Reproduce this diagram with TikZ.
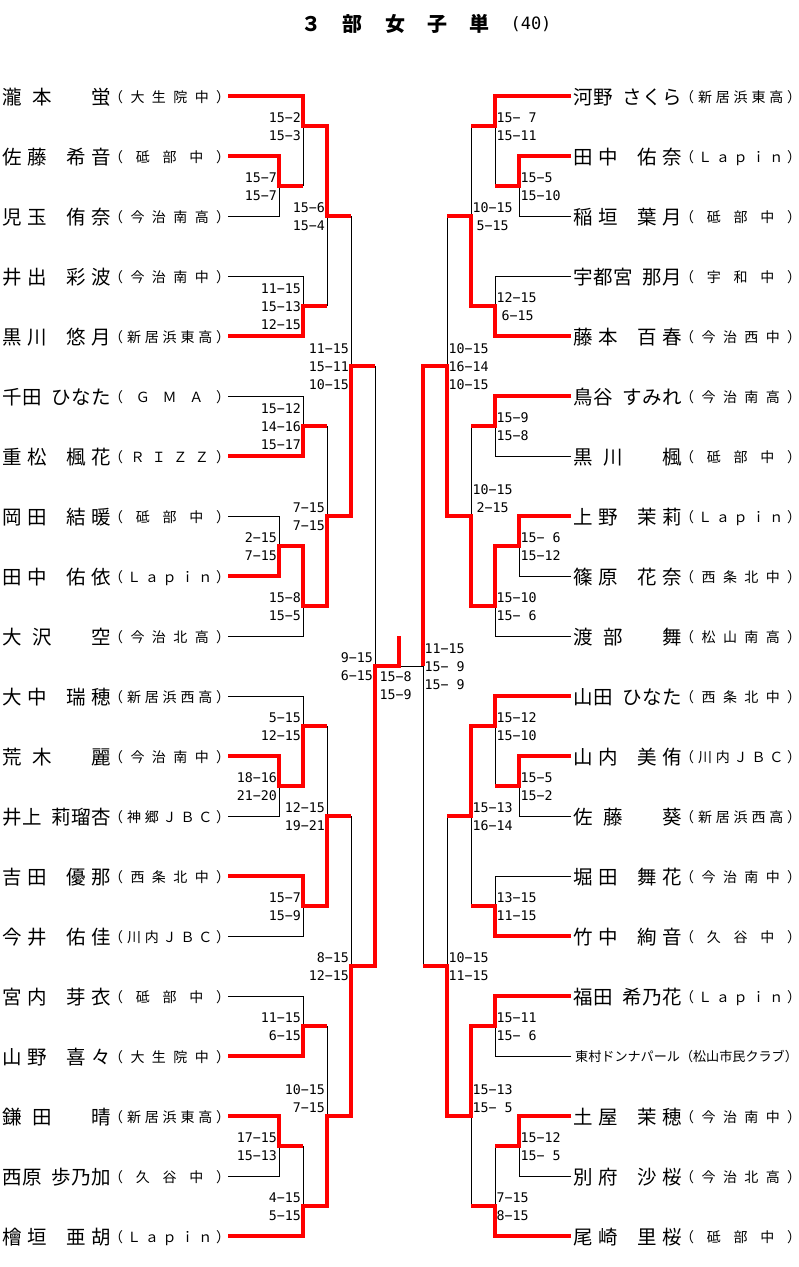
\documentclass[tikz,border=0pt]{standalone}
\usepackage{fontspec}
\newfontfamily\cjk{Noto Sans CJK JP}
\newfontfamily\mono{DejaVu Sans Mono}
\newdimen\fsw \fsw=19.5pt
\newdimen\hsw \hsw=8pt
\newcount\scn
\makeatletter
\newcommand\distbox[2]{\hbox to #1{\dist@loop#2\relax}}
\def\dist@loop#1{\ifx\relax#1\unskip\else\dist@put#1\hfil\expandafter\dist@loop\fi}
\def\dist@put#1{\ifx*#1\hbox to\fsw{}\else\ifx+#1\hbox to\hsw{}\else#1\fi\fi}
\makeatother
\tikzset{
  lose/.style={draw=black,line width=1pt},
  win/.style={draw=red,line width=3.2pt,line join=miter},
  namest/.style={inner sep=0pt,font=\cjk\fontsize{19.5}{20}\selectfont},
  schst/.style={inner sep=0pt,font=\cjk\fontsize{14}{14}\selectfont},
  smallst/.style={inner sep=0pt,font=\cjk\fontsize{13.1}{13}\selectfont},
  scst/.style={inner sep=0pt,font=\mono\fontsize{13.3}{13}\selectfont},
  titlest/.style={inner sep=0pt,font=\cjk\bfseries\fontsize{20}{20}\selectfont},
}
\newcommand\PL[4]{\node[namest,anchor=base west] (#1) at (2,#2+8) {\distbox{109pt}{#3}};
  \node[schst,anchor=base west] (#1s) at (109,#2+6.3) {\distbox{121pt}{（#4）}};}
\newcommand\PR[4]{\node[namest,anchor=base west] (#1) at (573,#2+8) {\distbox{109pt}{#3}};
  \node[schst,anchor=base west] (#1s) at (680,#2+6.3) {\distbox{121pt}{（#4）}};}
\newcommand\SL[3]{\foreach \t [count=\i from 0] in {#3}{\global\advance\scn by 1 \node[scst,anchor=base east] (sc\the\scn) at (#1-2,#2+4.8+18*\i) {\t};}}
\newcommand\SR[3]{\foreach \t [count=\i from 0] in {#3}{\global\advance\scn by 1 \node[scst,anchor=base west] (sc\the\scn) at (#1+1.5,#2+4.8+18*\i) {\t};}}
\begin{document}
\begin{tikzpicture}[x=1pt,y=-1pt]
\useasboundingbox (0,0) rectangle (799,1267);
\fill[white] (0,0) rectangle (799,1267);
% title
\foreach \c/\xx [count=\k] in {３/311,部/352.5,女/395,子/437,単/479}
  \node[titlest,anchor=base] (t\k) at (\xx,31) {\c};
\node[inner sep=0pt,font=\mono\fontsize{17}{17}\selectfont,anchor=base] (t6) at (531,29) {(40)};
% ---------- black lines ----------
\draw[lose] (228,216)--(279,216)--(279,186);
\draw[lose] (303,126)--(303,186);
\draw[lose] (228,276)--(303,276)--(303,306);
\draw[lose] (327,216)--(327,306);
\draw[lose] (351,216)--(351,366);
\draw[lose] (228,396)--(303,396)--(303,426);
\draw[lose] (327,426)--(327,516);
\draw[lose] (228,516)--(279,516)--(279,546);
\draw[lose] (303,606)--(303,636)--(228,636);
\draw[lose] (375,366)--(375,666);
\draw[lose] (228,696)--(303,696)--(303,726);
\draw[lose] (228,816)--(279,816)--(279,786);
\draw[lose] (327,726)--(327,816);
\draw[lose] (228,936)--(303,936)--(303,906);
\draw[lose] (351,816)--(351,966);
\draw[lose] (228,996)--(303,996)--(303,1026);
\draw[lose] (327,1026)--(327,1116);
\draw[lose] (228,1176)--(279,1176)--(279,1146);
\draw[lose] (303,1146)--(303,1206);
\draw[lose] (399,666)--(423,666);
\draw[lose] (571,216)--(519,216)--(519,186);
\draw[lose] (495,126)--(495,186);
\draw[lose] (471,126)--(471,216);
\draw[lose] (571,276)--(495,276)--(495,306);
\draw[lose] (447,216)--(447,366);
\draw[lose] (571,456)--(495,456)--(495,426);
\draw[lose] (471,426)--(471,516);
\draw[lose] (571,576)--(519,576)--(519,546);
\draw[lose] (495,606)--(495,636)--(571,636);
\draw[lose] (423,666)--(423,966);
\draw[lose] (571,816)--(519,816)--(519,786);
\draw[lose] (495,726)--(495,786);
\draw[lose] (471,816)--(471,906);
\draw[lose] (571,876)--(495,876)--(495,906);
\draw[lose] (447,816)--(447,966);
\draw[lose] (571,1056)--(495,1056)--(495,1026);
\draw[lose] (471,1116)--(471,1206);
\draw[lose] (571,1176)--(519,1176)--(519,1146);
\draw[lose] (495,1146)--(495,1206);
% ---------- red lines ----------
\draw[win] (228,96)--(303,96)--(303,126)--(327,126)--(327,216)--(351,216);
\draw[win] (228,156)--(279,156)--(279,186)--(303,186);
\draw[win] (228,336)--(303,336)--(303,306)--(327,306);
\draw[win] (228,456)--(303,456)--(303,426)--(327,426);
\draw[win] (228,576)--(279,576)--(279,546)--(303,546)--(303,606)--(327,606)--(327,516)--(351,516)--(351,366)--(375,366);
\draw[win] (228,756)--(279,756)--(279,786)--(303,786)--(303,726)--(327,726);
\draw[win] (228,876)--(303,876)--(303,906)--(327,906)--(327,816)--(351,816);
\draw[win] (228,1056)--(303,1056)--(303,1026)--(327,1026);
\draw[win] (228,1116)--(279,1116)--(279,1146)--(303,1146);
\draw[win] (228,1236)--(303,1236)--(303,1206)--(327,1206)--(327,1116)--(351,1116)--(351,966)--(375,966)--(375,666)--(399,666)--(399,636);
\draw[win] (571,96)--(495,96)--(495,126)--(471,126);
\draw[win] (571,156)--(519,156)--(519,186)--(495,186);
\draw[win] (571,336)--(495,336)--(495,306)--(471,306)--(471,216)--(447,216);
\draw[win] (571,396)--(495,396)--(495,426)--(471,426);
\draw[win] (571,516)--(519,516)--(519,546)--(495,546)--(495,606)--(471,606)--(471,516)--(447,516)--(447,366)--(423,366)--(423,666);
\draw[win] (571,696)--(495,696)--(495,726)--(471,726)--(471,816)--(447,816);
\draw[win] (571,756)--(519,756)--(519,786)--(495,786);
\draw[win] (571,936)--(495,936)--(495,906)--(471,906);
\draw[win] (571,996)--(495,996)--(495,1026)--(471,1026)--(471,1116)--(447,1116)--(447,966)--(423,966);
\draw[win] (571,1116)--(519,1116)--(519,1146)--(495,1146);
\draw[win] (571,1236)--(495,1236)--(495,1206)--(471,1206);
% ---------- players left ----------
\PL{L1}{96}{瀧本*蛍}{大生院中}
\PL{L2}{156}{佐藤+希音}{砥部中}
\PL{L3}{216}{児玉+侑奈}{今治南高}
\PL{L4}{276}{井出+彩波}{今治南中}
\PL{L5}{336}{黒川+悠月}{新居浜東高}
\PL{L6}{396}{千田+ひなた}{ＧＭＡ}
\PL{L7}{456}{重松+楓花}{ＲＩＺＺ}
\PL{L8}{516}{岡田+結暖}{砥部中}
\PL{L9}{576}{田中+佑依}{Ｌａｐｉｎ}
\PL{L10}{636}{大沢*空}{今治北高}
\PL{L11}{696}{大中+瑞穂}{新居浜西高}
\PL{L12}{756}{荒木*麗}{今治南中}
\PL{L13}{816}{井上+莉瑠杏}{神郷ＪＢＣ}
\PL{L14}{876}{吉田+優那}{西条北中}
\PL{L15}{936}{今井+佑佳}{川内ＪＢＣ}
\PL{L16}{996}{宮内+芽衣}{砥部中}
\PL{L17}{1056}{山野+喜々}{大生院中}
\PL{L18}{1116}{鎌田*晴}{新居浜東高}
\PL{L19}{1176}{西原+歩乃加}{久谷中}
\PL{L20}{1236}{檜垣+亜胡}{Ｌａｐｉｎ}
% ---------- players right ----------
\PR{R1}{96}{河野+さくら}{新居浜東高}
\PR{R2}{156}{田中+佑奈}{Ｌａｐｉｎ}
\PR{R3}{216}{稲垣+葉月}{砥部中}
\PR{R4}{276}{宇都宮+那月}{宇和中}
\PR{R5}{336}{藤本+百春}{今治西中}
\PR{R6}{396}{鳥谷+すみれ}{今治南高}
\PR{R7}{456}{黒川*楓}{砥部中}
\PR{R8}{516}{上野+茉莉}{Ｌａｐｉｎ}
\PR{R9}{576}{篠原+花奈}{西条北中}
\PR{R10}{636}{渡部*舞}{松山南高}
\PR{R11}{696}{山田+ひなた}{西条北中}
\PR{R12}{756}{山内+美侑}{川内ＪＢＣ}
\PR{R13}{816}{佐藤*葵}{新居浜西高}
\PR{R14}{876}{堀田+舞花}{今治南中}
\PR{R15}{936}{竹中+絢音}{久谷中}
\PR{R16}{996}{福田+希乃花}{Ｌａｐｉｎ}
\node[smallst,anchor=base west] (R17) at (575,1061) {東村ドンナパール（松山市民クラブ）};
\PR{R18}{1116}{土屋+茉穂}{今治南中}
\PR{R19}{1176}{別府+沙桜}{今治北高}
\PR{R20}{1236}{尾崎+里桜}{砥部中}
% ---------- scores left ----------
\SL{303}{118}{15−2,15−3}
\SL{279}{178}{15−7,15−7}
\SL{327}{208}{15−6,15−4}
\SL{303}{289}{11−15,15−13,12−15}
\SL{351}{349}{11−15,15−11,10−15}
\SL{303}{409}{15−12,14−16,15−17}
\SL{327}{508}{7−15,7−15}
\SL{279}{538}{2−15,7−15}
\SL{303}{598}{15−8,15−5}
\SL{375}{658}{9−15,6−15}
\SL{303}{718}{5−15,12−15}
\SL{279}{778}{18−16,21−20}
\SL{327}{808}{12−15,19−21}
\SL{303}{898}{15−7,15−9}
\SL{351}{958}{8−15,12−15}
\SL{303}{1018}{11−15,6−15}
\SL{327}{1090}{10−15,7−15}
\SL{279}{1138}{17−15,15−13}
\SL{303}{1198}{4−15,5−15}
% ---------- scores centre ----------
\SR{378}{677}{15−8,15−9}
\SR{423}{649}{11−15,15− 9,15− 9}
% ---------- scores right ----------
\SR{495}{118}{15− 7,15−11}
\SR{519}{178}{15−5,15−10}
\SR{471}{208}{10−15,\kern4pt 5−15}
\SR{495}{298}{12−15,\kern5pt 6−15}
\SR{447}{349}{10−15,16−14,10−15}
\SR{495}{418}{15−9,15−8}
\SR{471}{490}{10−15,\kern4pt 2−15}
\SR{519}{538}{15− 6,15−12}
\SR{495}{598}{15−10,15− 6}
\SR{495}{718}{15−12,15−10}
\SR{519}{778}{15−5,15−2}
\SR{471}{808}{15−13,16−14}
\SR{495}{898}{13−15,11−15}
\SR{447}{958}{10−15,11−15}
\SR{495}{1018}{15−11,15− 6}
\SR{471}{1090}{15−13,15− 5}
\SR{519}{1138}{15−12,15− 5}
\SR{495}{1198}{7−15,8−15}
\end{tikzpicture}
\end{document}
